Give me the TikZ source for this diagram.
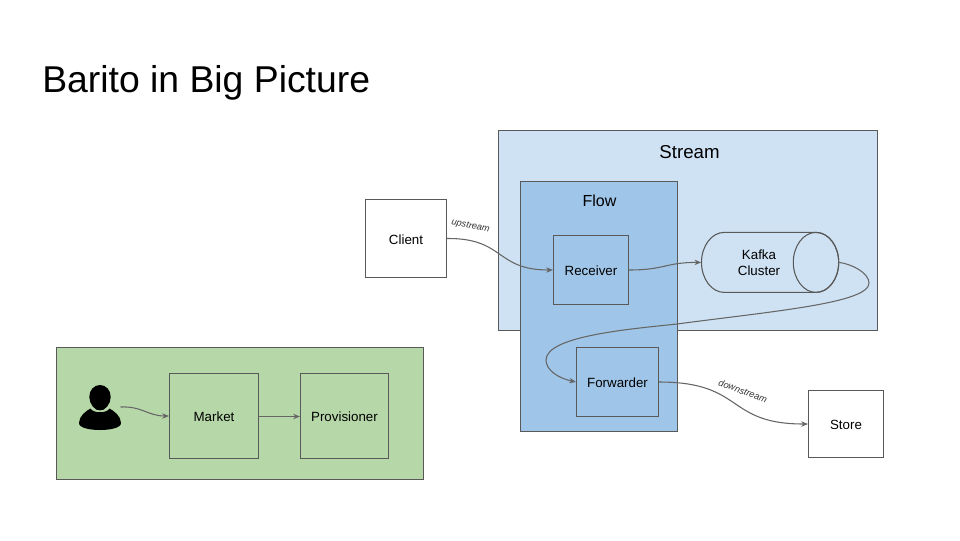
\documentclass[tikz,border=0pt]{standalone}
\usepackage{fontspec}
\setmainfont{Liberation Sans}
\usetikzlibrary{arrows.meta}
\definecolor{edgegrey}{HTML}{595959}
\definecolor{wiregrey}{HTML}{666666}
\definecolor{streamblue}{HTML}{CFE2F3}
\definecolor{flowblue}{HTML}{9FC5E8}
\definecolor{panelgreen}{HTML}{B6D7A8}
\tikzset{
  x=0.75pt,y=-0.75pt,
  box/.style={draw=edgegrey,line width=0.8pt,inner sep=0pt,text height=8.7pt,text depth=0pt,font=\fontsize{10}{12}\selectfont,align=center},
  conn/.style={draw=wiregrey,line width=0.8pt,-{Stealth[length=5pt,width=4pt,inset=1.5pt]}},
  edgelabel/.style={font=\fontsize{7}{8}\selectfont\itshape,text=black!80,inner sep=0pt},
  heading/.style={inner sep=0pt}
}
\begin{document}
\begin{tikzpicture}
\useasboundingbox (0,0) rectangle (960,540);
\fill[white] (0,0) rectangle (960,540);
\node[heading,anchor=west,font=\fontsize{28}{32}\selectfont] (title) at (42,82.5) {Barito in Big Picture};

\node[box,fill=streamblue,minimum width=379*0.75pt,minimum height=200*0.75pt] (stream) at (688.2,230.4) {};
\node[heading,font=\fontsize{14}{16}\selectfont] (streamlabel) at (689.5,152) {Stream};
\node[box,fill=flowblue,minimum width=157*0.75pt,minimum height=250*0.75pt] (flow) at (599,306.5) {};
\node[heading,font=\fontsize{12}{14}\selectfont] (flowlabel) at (599.5,200.5) {Flow};

\node[box,fill=white,minimum width=81*0.75pt,minimum height=78*0.75pt] (client) at (406,238.5) {Client};
\node[box,fill=flowblue,minimum width=75*0.75pt,minimum height=69*0.75pt] (receiver) at (591,270) {Receiver};
\node[box,fill=flowblue,minimum width=82*0.75pt,minimum height=69*0.75pt] (forwarder) at (617.5,382) {Forwarder};
\node[box,fill=white,minimum width=75*0.75pt,minimum height=67*0.75pt] (store) at (846,424) {Store};

% Kafka cylinder
\draw[edgegrey,line width=0.8pt,fill=streamblue] (724.2,232.4) .. controls (711.7,232.4) and (701.5,245.8) .. (701.5,262.4)
  .. controls (701.5,279) and (711.7,292.4) .. (724.2,292.4) -- (816,292.4)
  .. controls (828.5,292.4) and (838.7,279) .. (838.7,262.4)
  .. controls (838.7,245.8) and (828.5,232.4) .. (816,232.4) -- cycle;
\draw[edgegrey,line width=0.8pt] (816,262.4) ellipse [x radius=22.7,y radius=30];
\node[inner sep=0pt,minimum width=137.2*0.75pt,minimum height=60*0.75pt] (kafka) at (770.1,262.4) {};
\node[heading,font=\fontsize{10}{12}\selectfont,align=center] (kafkalabel) at (759,263.2) {Kafka\\Cluster};

\node[box,fill=panelgreen,minimum width=367*0.75pt,minimum height=132*0.75pt] (panel) at (240,413.5) {};
\node[box,fill=panelgreen,minimum width=89*0.75pt,minimum height=85*0.75pt] (market) at (214,416) {Market};
\node[box,fill=panelgreen,minimum width=88*0.75pt,minimum height=85*0.75pt] (provisioner) at (344.5,416) {Provisioner};

% person icon
\fill[black] (100,385) .. controls (106,385) and (110.7,390) .. (110.7,397)
  .. controls (110.7,404) and (105,410.7) .. (100,410.7)
  .. controls (95,410.7) and (89.3,404) .. (89.3,397)
  .. controls (89.3,390) and (94,385) .. (100,385) -- cycle;
\fill[black] (90.5,408.5) .. controls (93,413.5) and (107,413.5) .. (109.5,408.5)
  .. controls (114,411) and (121,416) .. (121,423)
  .. controls (121,428) and (110,430) .. (100,430)
  .. controls (90,430) and (79,428) .. (79,423)
  .. controls (79,416) and (86,411) .. (90.5,408.5) -- cycle;
\draw[panelgreen,line width=0.5pt] (91.5,407.5) .. controls (94,412) and (106,412) .. (108.5,407.5);
\coordinate (person) at (120.5,407);

\draw[conn] (person) .. controls (142,406) and (148,416) .. (market.west);
\draw[conn] ([yshift=-0.375pt]market.east) -- ([yshift=-0.375pt]provisioner.west);
\draw[conn] (client.east) .. controls (505,238) and (495,270) .. (receiver.west);
\draw[conn] (receiver.east) .. controls (665,270) and (665,262.4) .. (kafka.west);
\draw[conn] (kafka.east) .. controls (852,264) and (869,273) .. (869,283)
  .. controls (869,303) and (775,311) .. (677,324)
  .. controls (630,329) and (546,336) .. (546,360)
  .. controls (546,370) and (558,378) .. (forwarder.west);
\draw[conn] (forwarder.east) .. controls (745,382) and (725,424) .. (store.west);

\node[edgelabel,rotate=-12] (uplabel) at (470.5,226.5) {upstream};
\node[edgelabel,rotate=-20] (downlabel) at (743,391) {downstream};
\end{tikzpicture}
\end{document}
